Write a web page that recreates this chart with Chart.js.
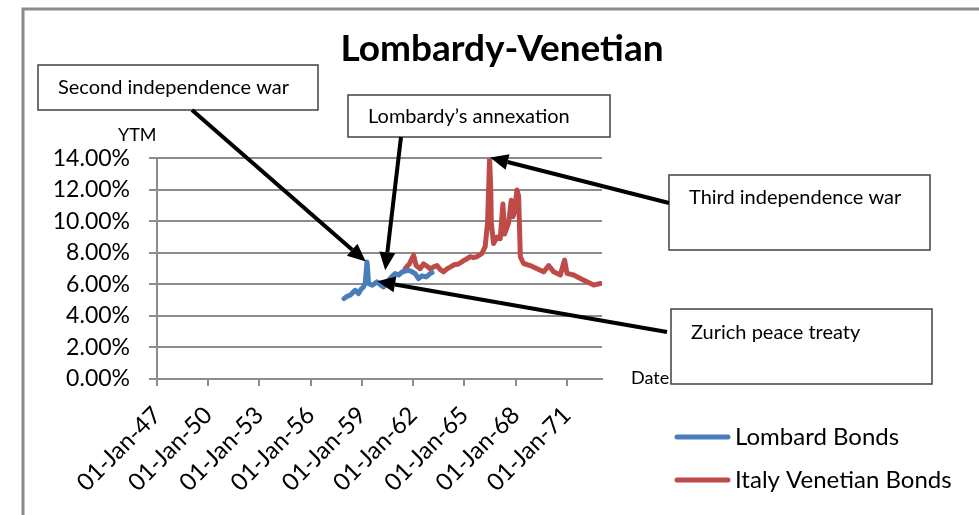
<!DOCTYPE html>
<html>
<head>
<meta charset="utf-8">
<script src="https://cdn.jsdelivr.net/npm/chart.js@4"></script>
<style>
  html, body { margin: 0; padding: 0; background: #fff; }
  #wrap { width: 979px; height: 515px; }
</style>
</head>
<body>
<div id="wrap"><canvas id="ytmChart" width="979" height="515"></canvas></div>
<script>
// Dates are decimal years, yields in percent
const lombardDates = [1857.95, 1858.13, 1858.31, 1858.48, 1858.6, 1858.79, 1858.95, 1859.09, 1859.19, 1859.29,
  1859.33, 1859.38, 1859.6, 1859.87, 1860.06, 1860.26, 1860.47, 1860.71, 1860.94, 1861.14,
  1861.34, 1861.53, 1861.72, 1861.94, 1862.11, 1862.31, 1862.52, 1862.76, 1862.99, 1863.1];
const lombardYtm = [5.1, 5.25, 5.32, 5.5, 5.63, 5.42, 5.7, 5.84, 6.1, 7.42,
  7.0, 6.06, 5.95, 6.16, 6.0, 5.84, 6.16, 6.45, 6.69, 6.6,
  6.79, 6.85, 6.9, 6.8, 6.69, 6.37, 6.55, 6.48, 6.69, 6.75];

const venetianDates = [1861.53, 1861.77, 1862.02, 1862.17, 1862.41, 1862.6, 1862.82, 1862.99, 1863.17, 1863.39,
  1863.58, 1863.77, 1863.99, 1864.16, 1864.4, 1864.65, 1864.93, 1865.1, 1865.34, 1865.51,
  1865.73, 1866.02, 1866.21, 1866.35, 1866.47, 1866.54, 1866.57, 1866.7, 1866.9, 1867.09,
  1867.25, 1867.35, 1867.58, 1867.74, 1867.84, 1867.93, 1868.07, 1868.17, 1868.27, 1868.46,
  1868.85, 1869.25, 1869.63, 1869.93, 1870.22, 1870.61, 1870.86, 1871.0, 1871.39, 1871.78,
  1872.17, 1872.56, 1872.95];
const venetianYtm = [7.0, 7.3, 7.85, 7.2, 7.0, 7.3, 7.15, 7.0, 7.1, 7.2,
  6.95, 6.8, 7.0, 7.1, 7.25, 7.3, 7.5, 7.6, 7.76, 7.7,
  7.76, 7.97, 8.4, 9.9, 13.95, 12.0, 9.9, 8.6, 9.0, 8.9,
  11.1, 9.2, 9.9, 11.35, 10.3, 10.6, 12.0, 11.6, 7.76, 7.33,
  7.2, 7.0, 6.8, 7.2, 6.8, 6.6, 7.55, 6.7, 6.6, 6.38,
  6.17, 5.96, 6.06];

const tickYears = [1847, 1850, 1853, 1856, 1859, 1862, 1865, 1868, 1871];
const tickLabels = ['01-Jan-47', '01-Jan-50', '01-Jan-53', '01-Jan-56', '01-Jan-59', '01-Jan-62', '01-Jan-65', '01-Jan-68', '01-Jan-71'];

// callout boxes: box in pixels, arrow tip in data units
const callouts = [
  { text: 'Second independence war', box: [38, 65, 280, 45], textDy: 23, from: [192, 110], tip: [1859.22, 7.45] },
  { text: 'Lombardy\u2019s annexation', box: [348, 95, 262, 42], textDy: 22, from: [401, 137], tip: [1860.36, 6.9] },
  { text: 'Third independence war', box: [669, 175, 261, 75], textDy: 23, from: [669, 203], tip: [1866.5, 14.05] },
  { text: 'Zurich peace treaty', box: [671, 309, 261, 75], textDy: 24, from: [667, 332], tip: [1859.89, 6.2] }
];

const gridGrey = '#8c8c8c';
Chart.defaults.font.family = 'Lato';
Chart.defaults.color = '#000';

const toPoints = (xs, ys) => xs.map((x, i) => ({ x: x, y: ys[i] }));

const drawArrow = (ctx, sx, sy, tx, ty) => {
  const ang = Math.atan2(ty - sy, tx - sx);
  const headLen = 18, headHalf = 8;
  const hx = tx - Math.cos(ang) * headLen;
  const hy = ty - Math.sin(ang) * headLen;
  ctx.strokeStyle = '#000';
  ctx.lineWidth = 4;
  ctx.beginPath();
  ctx.moveTo(sx, sy);
  ctx.lineTo(hx, hy);
  ctx.stroke();
  ctx.fillStyle = '#000';
  ctx.beginPath();
  ctx.moveTo(tx, ty);
  ctx.lineTo(hx + Math.sin(ang) * headHalf, hy - Math.cos(ang) * headHalf);
  ctx.lineTo(hx - Math.sin(ang) * headHalf, hy + Math.cos(ang) * headHalf);
  ctx.closePath();
  ctx.fill();
};

const decorations = {
  id: 'decorations',
  beforeDraw(chart) {
    const ctx = chart.ctx;
    ctx.save();
    ctx.fillStyle = '#fff';
    ctx.fillRect(0, 0, chart.width, chart.height);
    ctx.strokeStyle = '#8a8a8a';
    ctx.lineWidth = 3;
    ctx.beginPath();
    ctx.moveTo(23, chart.height + 5);
    ctx.lineTo(23, 9);
    ctx.lineTo(chart.width + 5, 9);
    ctx.stroke();
    ctx.restore();
  },
  afterDraw(chart) {
    const ctx = chart.ctx;
    const { x, y } = chart.scales;
    ctx.save();

    // axis titles
    ctx.fillStyle = '#000';
    ctx.font = '18px Lato';
    ctx.textBaseline = 'alphabetic';
    ctx.textAlign = 'left';
    ctx.fillText('YTM', 118, 141);
    ctx.fillText('Date', 631, 384);

    // legend
    chart.data.datasets.forEach((ds, i) => {
      const ly = 437 + i * 43;
      ctx.strokeStyle = ds.borderColor;
      ctx.lineWidth = 5;
      ctx.lineCap = 'round';
      ctx.beginPath();
      ctx.moveTo(677, ly);
      ctx.lineTo(728, ly);
      ctx.stroke();
      ctx.fillStyle = '#000';
      ctx.font = '24px Lato';
      ctx.textBaseline = 'middle';
      ctx.fillText(ds.label, 735, ly);
    });
    ctx.lineCap = 'butt';

    // callouts
    callouts.forEach(c => {
      const [bx, by, bw, bh] = c.box;
      ctx.fillStyle = '#fff';
      ctx.fillRect(bx, by, bw, bh);
      ctx.strokeStyle = '#404040';
      ctx.lineWidth = 1.5;
      ctx.strokeRect(bx, by, bw, bh);
      ctx.fillStyle = '#000';
      ctx.font = '20px Lato';
      ctx.textBaseline = 'middle';
      ctx.fillText(c.text, bx + 20, by + c.textDy);
      drawArrow(ctx, c.from[0], c.from[1], x.getPixelForValue(c.tip[0]), y.getPixelForValue(c.tip[1]));
    });
    ctx.restore();
  }
};

const lineStyle = {
  borderWidth: 5,
  borderCapStyle: 'round',
  borderJoinStyle: 'round',
  pointRadius: 0,
  tension: 0
};

const config = {
  type: 'line',
  data: {
    datasets: [
      Object.assign({
        label: 'Lombard Bonds',
        data: toPoints(lombardDates, lombardYtm),
        borderColor: '#4a7ebb',
        backgroundColor: '#4a7ebb'
      }, lineStyle),
      Object.assign({
        label: 'Italy Venetian Bonds',
        data: toPoints(venetianDates, venetianYtm),
        borderColor: '#be4b48',
        backgroundColor: '#be4b48'
      }, lineStyle)
    ]
  },
  options: {
    responsive: false,
    animation: false,
    layout: { padding: { top: 10, left: 32, right: 7, bottom: 7 } },
    plugins: {
      tooltip: { enabled: false },
      legend: { display: false },
      title: {
        display: true,
        text: 'Lombardy-Venetian',
        font: { size: 37, weight: 'bold' },
        color: '#000',
        padding: { top: 17, bottom: 87 }
      }
    },
    scales: {
      x: {
        type: 'linear',
        min: 1847,
        max: 1873.05,
        afterBuildTicks: (scale) => { scale.ticks = tickYears.map(v => ({ value: v })); },
        afterFit: (scale) => { scale.height = 129; },
        ticks: {
          autoSkip: false,
          maxRotation: 45,
          minRotation: 45,
          padding: 15,
          font: { size: 24 },
          callback: (value, index) => tickLabels[index]
        },
        grid: { drawOnChartArea: false, drawTicks: true, tickLength: 7, color: gridGrey, lineWidth: 2 },
        border: { display: true, color: gridGrey, width: 2 }
      },
      y: {
        min: 0,
        max: 14,
        afterFit: (scale) => { scale.width = 125; },
        ticks: {
          stepSize: 2,
          padding: 19,
          font: { size: 23 },
          callback: (value) => value.toFixed(2) + '%'
        },
        grid: { color: gridGrey, lineWidth: 2, tickLength: 8 },
        border: { display: true, color: gridGrey, width: 2 }
      },
      gap: {
        type: 'linear',
        position: 'right',
        display: true,
        afterFit: (scale) => { scale.width = 370; },
        ticks: { display: false },
        grid: { display: false, drawTicks: false },
        border: { display: false }
      }
    }
  },
  plugins: [decorations]
};

new Chart(document.getElementById('ytmChart'), config);
</script>
</body>
</html>
